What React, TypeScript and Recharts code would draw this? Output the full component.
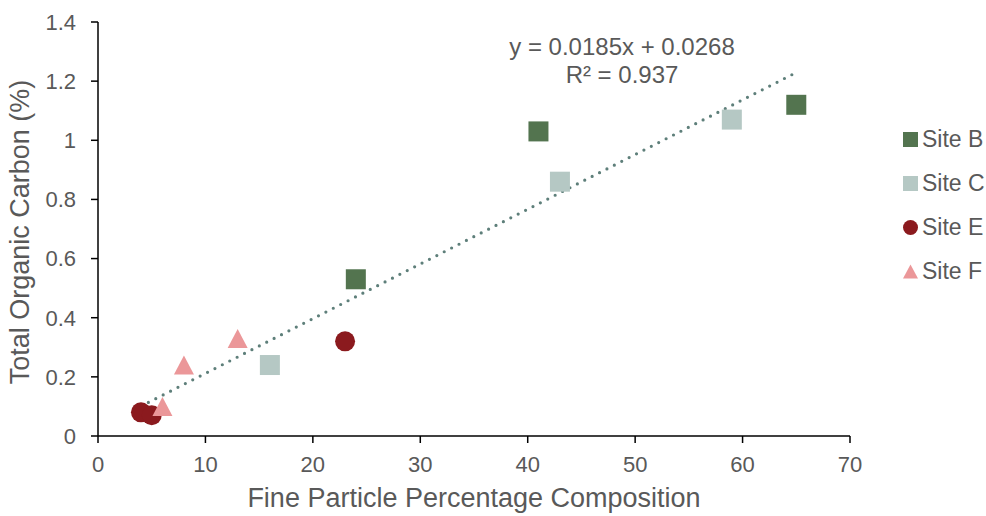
import React from 'react';
import { ScatterChart, Scatter, XAxis, YAxis, Legend, Customized } from 'recharts';

// ---- data ----
const siteNames = ['Site B', 'Site C', 'Site E', 'Site F'];
const siteColors = ['#53744F', '#B5C8C4', '#8B1A1E', '#EB9799'];
const siteShapes = ['square', 'square', 'circle', 'triangle'];

const siteBX = [24, 41, 65];
const siteBY = [0.53, 1.03, 1.12];
const siteCX = [16, 43, 59];
const siteCY = [0.24, 0.86, 1.07];
const siteEX = [4, 5, 23];
const siteEY = [0.08, 0.07, 0.32];
const siteFX = [6, 8, 13];
const siteFY = [0.1, 0.24, 0.33];

const trendSlope = 0.0185;
const trendIntercept = 0.0268;
const trendXRange = [4, 65];
const trendLabel1 = 'y = 0.0185x + 0.0268';
const trendLabel2 = 'R² = 0.937';

const xTicks = [0, 10, 20, 30, 40, 50, 60, 70];
const yTicks = [0, 0.2, 0.4, 0.6, 0.8, 1, 1.2, 1.4];
const xTitle = 'Fine Particle Percentage Composition';
const yTitle = 'Total Organic Carbon (%)';

const zip = (xs: number[], ys: number[]) => xs.map((x, i) => ({ x, y: ys[i] }));
const siteData = [zip(siteBX, siteBY), zip(siteCX, siteCY), zip(siteEX, siteEY), zip(siteFX, siteFY)];
const trendData = trendXRange.map((x) => ({ x, y: trendSlope * x + trendIntercept }));

const FONT = '"Liberation Sans", Arial, sans-serif';
const TEXT = '#595959';
const TREND = '#5E7F7A';

const makeShape = (kind: string, color: string) => (props: any) => {
  const { cx, cy } = props;
  if (cx == null || cy == null) return <g />;
  if (kind === 'square') return <rect x={cx - 10} y={cy - 10} width={20} height={20} fill={color} />;
  if (kind === 'circle') return <circle cx={cx} cy={cy} r={10} fill={color} />;
  return <polygon points={`${cx},${cy - 9.5} ${cx + 10},${cy + 9.5} ${cx - 10},${cy + 9.5}`} fill={color} />;
};

const LegendIcon = ({ kind, color }: { kind: string; color: string }) => (
  <svg width={15} height={15} style={{ display: 'block' }}>
    {kind === 'square' && <rect x={0} y={0} width={15} height={15} fill={color} />}
    {kind === 'circle' && <circle cx={7.5} cy={7.5} r={7.5} fill={color} />}
    {kind === 'triangle' && <polygon points="7.5,0.5 15,14.5 0,14.5" fill={color} />}
  </svg>
);

const renderLegend = () => (
  <div style={{ fontFamily: FONT, fontSize: 23, color: TEXT }}>
    {siteNames.map((n, i) => (
      <div key={n} style={{ height: 44, display: 'flex', alignItems: 'center' }}>
        <div style={{ marginLeft: 8, marginRight: 4 }}>
          <LegendIcon kind={siteShapes[i]} color={siteColors[i]} />
        </div>
        <span style={{ whiteSpace: 'nowrap' }}>{n}</span>
      </div>
    ))}
  </div>
);

const Annotation = () => (
  <g fontFamily={FONT} fontSize={24} fill={TEXT}>
    <text x={622} y={55} textAnchor="middle">{trendLabel1}</text>
    <text x={622} y={83} textAnchor="middle">{trendLabel2}</text>
  </g>
);

export default function App() {
  return (
    <div style={{ position: 'absolute', left: 0, top: 0 }}>
      <ScatterChart width={986} height={516} margin={{ top: 22, right: 45, bottom: 0, left: 0 }}>
        <XAxis
          type="number"
          dataKey="x"
          domain={[0, 70]}
          ticks={xTicks}
          height={80}
          axisLine={{ stroke: '#000', strokeWidth: 1.5 }}
          tickLine={{ stroke: '#000', strokeWidth: 1.5 }}
          tickSize={7}
          tickMargin={13}
          tick={{ fill: TEXT, fontSize: 22, fontFamily: FONT }}
          label={{
            content: (p: any) => {
              const vb = p.viewBox || { x: 98, width: 752 };
              return (
                <text x={vb.x + vb.width / 2} y={507} textAnchor="middle" fontFamily={FONT} fontSize={27} fill={TEXT}>
                  {xTitle}
                </text>
              );
            },
          }}
        />
        <YAxis
          type="number"
          dataKey="y"
          domain={[0, 1.4]}
          ticks={yTicks}
          width={98}
          axisLine={{ stroke: '#000', strokeWidth: 1.5 }}
          tickLine={{ stroke: '#000', strokeWidth: 1.5 }}
          tickSize={7}
          tickMargin={15}
          tick={{ fill: TEXT, fontSize: 22, fontFamily: FONT }}
          label={{
            content: (p: any) => {
              const vb = p.viewBox || { y: 22, height: 414 };
              const cy = vb.y + vb.height / 2 + 3;
              return (
                <text
                  x={0}
                  y={0}
                  transform={`translate(29, ${cy}) rotate(-90)`}
                  textAnchor="middle"
                  fontFamily={FONT}
                  fontSize={27}
                  fill={TEXT}
                >
                  {yTitle}
                </text>
              );
            },
          }}
        />
        <Legend
          layout="vertical"
          align="right"
          verticalAlign="top"
          content={renderLegend}
          wrapperStyle={{ left: 895, top: 117, width: 91 }}
        />
        <Scatter
          name="trend"
          data={trendData}
          legendType="none"
          isAnimationActive={false}
          shape={() => <g />}
          line={{ stroke: TREND, strokeWidth: 3.2, strokeDasharray: '0 8.3', strokeLinecap: 'round' } as any}
        />
        {siteData.map((d, i) => (
          <Scatter
            key={siteNames[i]}
            name={siteNames[i]}
            data={d}
            fill={siteColors[i]}
            isAnimationActive={false}
            shape={makeShape(siteShapes[i], siteColors[i])}
          />
        ))}
        <Customized component={<Annotation />} />
      </ScatterChart>
    </div>
  );
}
